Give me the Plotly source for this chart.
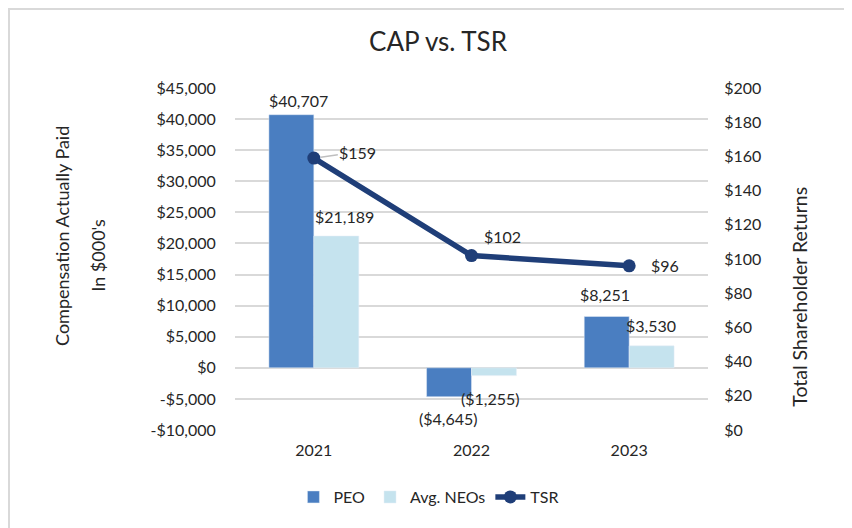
import plotly.graph_objects as go

years = ["2021", "2022", "2023"]
peo = [40707, -4645, 8251]
neo = [21189, -1255, 3530]
tsr = [159, 102, 96]

left_vals = [-10000, -5000, 0, 5000, 10000, 15000, 20000, 25000, 30000, 35000, 40000, 45000]
left_text = ["-$10,000", "-$5,000", "$0", "$5,000", "$10,000", "$15,000", "$20,000",
             "$25,000", "$30,000", "$35,000", "$40,000", "$45,000"]
right_vals = [0, 20, 40, 60, 80, 100, 120, 140, 160, 180, 200]
right_text = ["$0", "$20", "$40", "$60", "$80", "$100", "$120", "$140", "$160", "$180", "$200"]

FONT = "Lato, Open Sans, sans-serif"
TXT = "#262626"


def fmt(v):
    s = "${:,}".format(abs(v))
    return "(" + s + ")" if v < 0 else s


fig = go.Figure()
fig.add_trace(go.Bar(x=years, y=peo, name="PEO", marker_color="#4a7ec1"))
fig.add_trace(go.Bar(x=years, y=neo, name="Avg. NEOs", marker_color="#c5e3ee"))
fig.add_trace(go.Scatter(x=years, y=tsr, name="TSR", yaxis="y2", mode="lines+markers",
                         line=dict(color="#1f3e78", width=5.5),
                         marker=dict(color="#1f3e78", size=13)))

ann = []
peo_shift = [(-15, 14), (-23, -22), (-24, 22)]
neo_shift = [(31, 20), (19, -23), (22, 20)]
tsr_shift = [(44, 6), (31, 19), (36, 0)]
for i in range(len(years)):
    ann.append(dict(x=i, y=peo[i], xref="x", yref="y", text=fmt(peo[i]), showarrow=False,
                    xshift=peo_shift[i][0], yshift=peo_shift[i][1], font=dict(size=16, color=TXT)))
    ann.append(dict(x=i, y=neo[i], xref="x", yref="y", text=fmt(neo[i]), showarrow=False,
                    xshift=neo_shift[i][0], yshift=neo_shift[i][1], font=dict(size=16, color=TXT)))
    if i == 0:
        ann.append(dict(x=i, y=tsr[i], xref="x", yref="y2", text=fmt(tsr[i]), showarrow=True,
                        arrowhead=0, arrowcolor="#bfbfbf", arrowwidth=1.5, ax=44, ay=-6,
                        standoff=7, font=dict(size=16, color=TXT)))
    else:
        ann.append(dict(x=i, y=tsr[i], xref="x", yref="y2", text=fmt(tsr[i]), showarrow=False,
                        xshift=tsr_shift[i][0], yshift=tsr_shift[i][1], font=dict(size=16, color=TXT)))

ann.append(dict(x=-0.366, y=0.567, xref="paper", yref="paper", textangle=-90, showarrow=False,
                xanchor="center", yanchor="middle",
                text="Compensation Actually Paid", font=dict(size=18, color=TXT)))
ann.append(dict(x=-0.29, y=0.512, xref="paper", yref="paper", textangle=-90, showarrow=False,
                xanchor="center", yanchor="middle",
                text="In $000's", font=dict(size=18, color=TXT)))
ann.append(dict(x=1.194, y=0.389, xref="paper", yref="paper", textangle=-90, showarrow=False,
                xanchor="center", yanchor="middle",
                text="Total Shareholder Returns", font=dict(size=19.5, color=TXT)))

fig.update_layout(
    width=844, height=520,
    margin=dict(l=227, r=144, t=80, b=98),
    paper_bgcolor="white", plot_bgcolor="white",
    font=dict(family=FONT, size=16, color=TXT),
    title=dict(text="CAP vs. TSR", x=0.5095, xanchor="center", y=0.935, yanchor="middle",
               font=dict(size=26, color=TXT)),
    barmode="group", bargap=0.43, bargroupgap=0,
    showlegend=True,
    legend=dict(orientation="h", x=0.41, xanchor="center", y=-0.196, yanchor="middle",
                font=dict(size=16, color=TXT), traceorder="normal"),
    xaxis=dict(type="category", range=[-0.5, 2.5], autorange=False, showgrid=False, showline=False,
               ticks="outside", ticklen=6, tickcolor="rgba(0,0,0,0)", tickfont=dict(size=16)),
    yaxis=dict(range=[-10000, 45000], autorange=False, tickvals=left_vals, ticktext=left_text,
               showgrid=True, gridcolor="#d9d9d9", gridwidth=1.5, zeroline=False,
               ticks="outside", ticklen=15, tickcolor="rgba(0,0,0,0)", tickfont=dict(size=16)),
    yaxis2=dict(range=[0, 200], autorange=False, tickvals=right_vals, ticktext=right_text,
                overlaying="y", side="right", showgrid=False, zeroline=False,
                ticks="outside", ticklen=12, tickcolor="rgba(0,0,0,0)", tickfont=dict(size=16)),
    annotations=ann,
    shapes=[dict(type="rect", xref="paper", yref="paper", x0=-0.4778, x1=1.35, y0=-0.35, y1=1.231,
                 line=dict(color="#d9d9d9", width=2), layer="below")],
)

fig.write_html("out.html")
